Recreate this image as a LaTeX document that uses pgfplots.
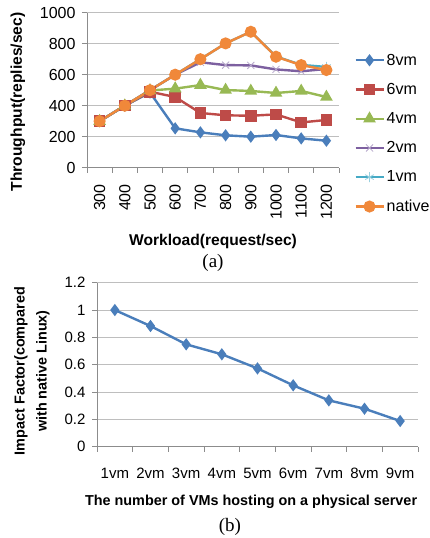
\documentclass[border=0pt]{standalone}
\usepackage{fontspec}
\setmainfont{Liberation Sans}
\newfontfamily\capfont{Liberation Serif}
\usepackage{pgfplots}
\pgfplotsset{compat=1.18}
\definecolor{c8}{HTML}{4A7EBB}
\definecolor{c6}{HTML}{BE4B48}
\definecolor{c4}{HTML}{98B954}
\definecolor{c2}{HTML}{7D60A0}
\definecolor{c1}{HTML}{46AAC5}
\definecolor{cn}{HTML}{F0883A}
\definecolor{gridc}{HTML}{BEBEBE}
\definecolor{axc}{HTML}{8C8C8C}
\pgfplotsset{
  excel/.style={
    scale only axis,
    axis x line*=bottom, axis y line*=left,
    axis line style={-, draw=axc, line width=0.8pt},
    tick align=outside,
    major tick length=5pt, minor tick length=5pt,
    major x tick style={draw=none},
    minor x tick style={draw=axc, line width=0.8pt},
    ytick style={draw=axc, line width=0.8pt},
    ymajorgrids, grid style={draw=gridc, line width=0.8pt},
    clip=false,
    /pgf/number format/assume math mode=true,
    /pgf/number format/1000 sep={},
  }
}
\begin{document}
\begin{tikzpicture}[x=1pt,y=1pt]
\useasboundingbox (0,0) rectangle (429,538);
% ---------- (a) ----------
\begin{axis}[excel,
  at={(87pt,370.3pt)}, anchor=south west,
  width=252pt, height=155pt,
  xmin=0.5, xmax=10.5, ymin=0, ymax=1000,
  ytick={0,200,...,1000},
  xtick={1,...,10},
  xticklabels={300,400,500,600,700,800,900,1000,1100,1200},
  minor xtick={0.5,1.5,...,10.5},
  xticklabel style={rotate=90, anchor=east, font=\fontsize{16}{19}\selectfont, xshift=-8pt},
  yticklabel style={font=\fontsize{16}{19}\selectfont, xshift=-3pt},
  every axis y label/.style={at={(rel axis cs:-0.274,0.424)}, rotate=90, anchor=center, font=\bfseries\fontsize{15.6}{18}\selectfont},
  every axis x label/.style={at={(rel axis cs:0.5,-0.473)}, anchor=center, font=\bfseries\fontsize{15.6}{18}\selectfont},
  ylabel={Throughput(replies/sec)},
  xlabel={Workload(request/sec)},
  legend cell align=left,
  legend style={at={(rel axis cs:1.06,0.748)}, anchor=north west, draw=none, fill=none,
    font=\fontsize{16}{19}\selectfont, row sep=12.6pt, inner sep=0pt},
  legend image code/.code={\draw[mark repeat=2,mark phase=2,#1] plot coordinates {(0pt,0pt) (14pt,0pt) (28pt,0pt)};},
  every axis plot/.append style={line width=2.4pt, mark options={solid}},
]
\addplot[c8, mark=diamond*, mark size=4.2pt] coordinates {(1,300) (2,400) (3,485) (4,254) (5,228) (6,209) (7,200) (8,211) (9,189) (10,174)};
\addlegendentry{8vm}
\addplot[c6, mark=square*, mark size=4.6pt] coordinates {(1,300) (2,400) (3,490) (4,456) (5,353) (6,338) (7,335) (8,344) (9,292) (10,308)};
\addlegendentry{6vm}
\addplot[c4, mark=triangle*, mark size=5pt] coordinates {(1,300) (2,400) (3,498) (4,510) (5,533) (6,501) (7,495) (8,482) (9,495) (10,456)};
\addlegendentry{4vm}
\addplot[c2, mark=x, mark size=5pt, mark options={line width=0.8pt, draw=c2!55}] coordinates {(1,300) (2,400) (3,500) (4,600) (5,680) (6,662) (7,660) (8,634) (9,622) (10,637)};
\addlegendentry{2vm}
\addplot[c1, mark=asterisk, mark size=5pt, mark options={line width=0.8pt, draw=c1!55}] coordinates {(1,300) (2,400) (3,500) (4,600) (5,700) (6,802) (7,877) (8,718) (9,663) (10,650)};
\addlegendentry{1vm}
\addplot[cn, mark=*, mark size=4.8pt] coordinates {(1,300) (2,400) (3,500) (4,600) (5,700) (6,802) (7,877) (8,716) (9,662) (10,630)};
\addlegendentry{native}
\node[font=\capfont\fontsize{19}{22}\selectfont] at (rel axis cs:0.5,-0.615) {(a)};
\end{axis}
% ---------- (b) ----------
\begin{axis}[excel,
  at={(97pt,91.3pt)}, anchor=south west,
  width=321pt, height=164pt,
  xmin=0.5, xmax=9.5, ymin=0, ymax=1.2,
  ytick={0,0.2,...,1.2},
  yticklabels={0,0.2,0.4,0.6,0.8,1,1.2},
  xtick={1,...,9},
  xticklabels={1vm,2vm,3vm,4vm,5vm,6vm,7vm,8vm,9vm},
  minor xtick={0.5,1.5,...,9.5},
  xticklabel style={font=\fontsize{15}{18}\selectfont, yshift=-13pt},
  yticklabel style={font=\fontsize{15}{18}\selectfont, xshift=-3pt},
  every axis y label/.style={at={(rel axis cs:-0.2025,0.461)}, rotate=90, anchor=center, align=center, font=\bfseries\fontsize{14.4}{22}\selectfont},
  every axis x label/.style={at={(rel axis cs:0.48,-0.337)}, anchor=center, font=\bfseries\fontsize{14.4}{17}\selectfont},
  ylabel={Impact Factor(compared\\with native Linux)},
  xlabel={The number of VMs hosting on a physical server},
]
\addplot[c8, line width=2.4pt, mark=diamond*, mark size=4.2pt] coordinates {(1,1.0) (2,0.883) (3,0.749) (4,0.676) (5,0.573) (6,0.449) (7,0.339) (8,0.278) (9,0.188)};
\node[font=\capfont\fontsize{19}{22}\selectfont] at (rel axis cs:0.414,-0.49) {(b)};
\end{axis}
\end{tikzpicture}
\end{document}
